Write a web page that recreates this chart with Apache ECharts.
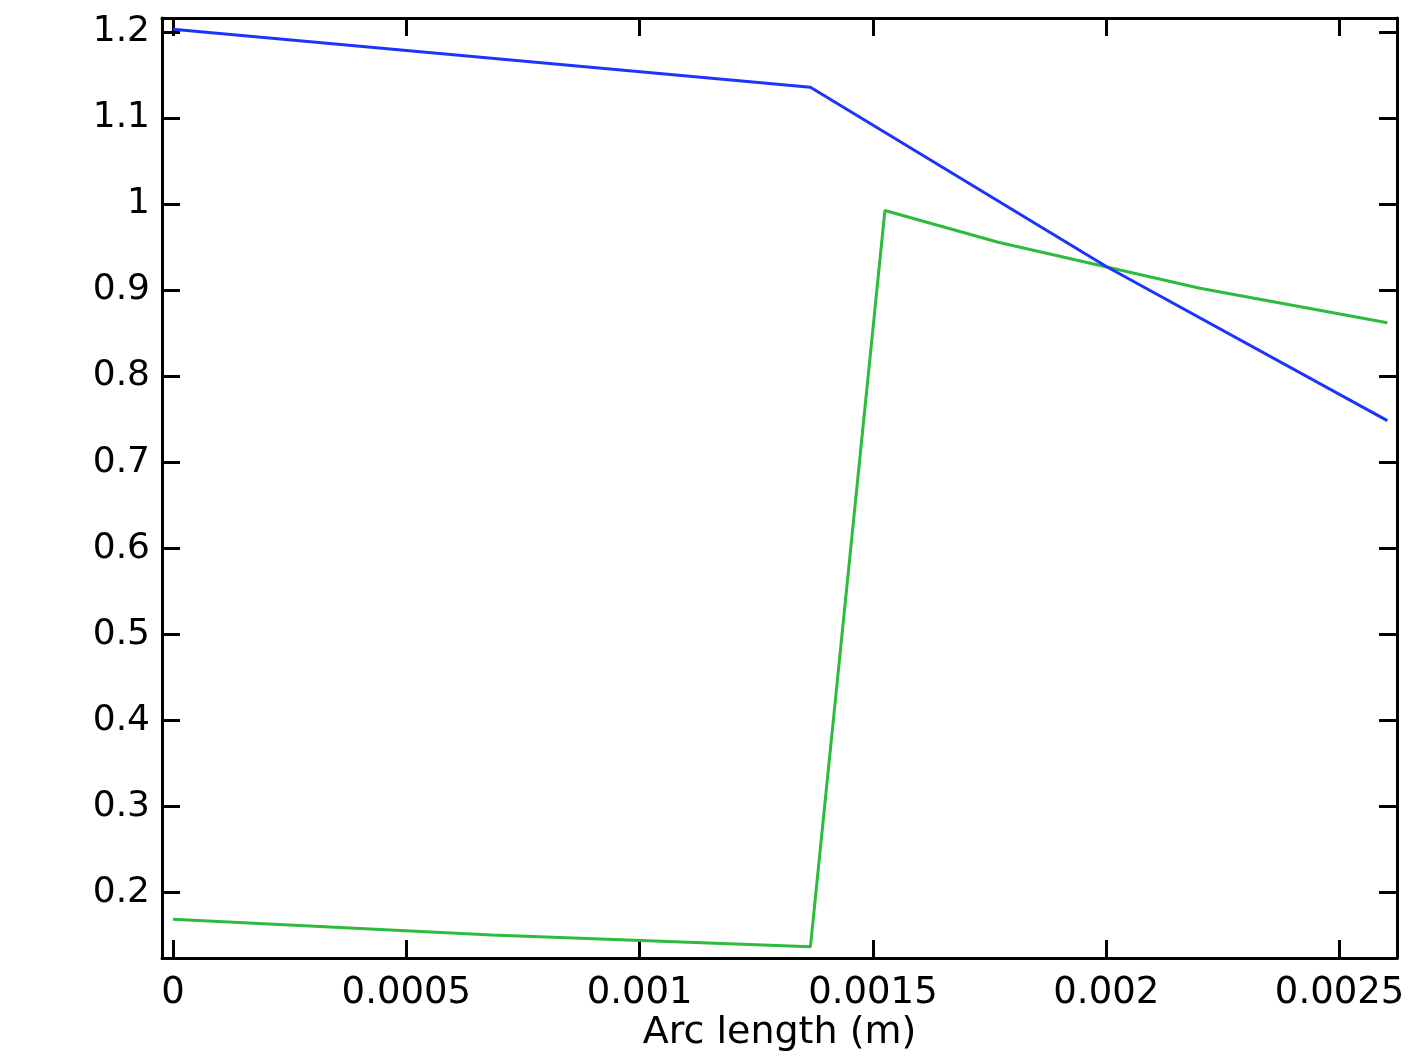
<!DOCTYPE html>
<html>
<head>
<meta charset="utf-8">
<script src="https://cdn.jsdelivr.net/npm/echarts@6/dist/echarts.min.js"></script>
<style>html,body{margin:0;padding:0;background:#fff;}#c{width:1417px;height:1063px;}</style>
</head>
<body>
<div id="c"></div>
<script>
// Data
const blueX = [0, 0.001366, 0.002, 0.0026023];
const blueY = [1.2031, 1.1357, 0.9274, 0.7482];
const greenX = [0, 0.000683, 0.001366, 0.0015256, 0.0017684, 0.0022008, 0.0026023];
const greenY = [0.1686, 0.1504, 0.1368, 0.9925, 0.9557, 0.9021, 0.8621];
const xTicks = [0, 0.0005, 0.001, 0.0015, 0.002, 0.0025];
const xTickLabels = ['0', '0.0005', '0.001', '0.0015', '0.002', '0.0025'];
const yTicks = [0.2, 0.3, 0.4, 0.5, 0.6, 0.7, 0.8, 0.9, 1, 1.1, 1.2];
const yTickLabels = ['0.2', '0.3', '0.4', '0.5', '0.6', '0.7', '0.8', '0.9', '1', '1.1', '1.2'];
const xName = 'Arc length (m)';

const xMin = -0.0000236, xMax = 0.002623;
const yMin = 0.1236, yMax = 1.2163;
const font = 'DejaVu Sans';

function pairs(xs, ys) { return xs.map((x, i) => [x, ys[i]]); }
function xLabelFmt(v) { const i = xTicks.findIndex(t => Math.abs(t - v) < 1e-9); return i >= 0 ? xTickLabels[i] : ''; }
function yLabelFmt(v) { const i = yTicks.findIndex(t => Math.abs(t - v) < 1e-9); return i >= 0 ? yTickLabels[i] : ''; }

const axisLine = { show: true, onZero: false, lineStyle: { color: '#000', width: 3 } };
const tick = (vals) => ({ show: true, inside: true, length: 18, lineStyle: { color: '#000', width: 3 }, customValues: vals });

const chart = echarts.init(document.getElementById('c'), null, { renderer: 'canvas' });
chart.setOption({
  animation: false,
  backgroundColor: '#fff',
  grid: { left: 162, right: 20, top: 18, bottom: 105, outerBoundsMode: 'none', containLabel: false },
  xAxis: [
    {
      type: 'value', position: 'bottom', min: xMin, max: xMax,
      axisLine: axisLine, axisTick: tick(xTicks), splitLine: { show: false },
      axisLabel: { show: true, customValues: xTicks, formatter: xLabelFmt, fontFamily: font, fontSize: 37, color: '#000', margin: 17 },
      name: xName, nameLocation: 'middle', nameGap: 56, nameMoveOverlap: false,
      nameTextStyle: { fontFamily: font, fontSize: 38, color: '#000' }
    },
    {
      type: 'value', position: 'top', min: xMin, max: xMax,
      axisLine: axisLine, axisTick: tick(xTicks), splitLine: { show: false },
      axisLabel: { show: false }
    }
  ],
  yAxis: [
    {
      type: 'value', position: 'left', min: yMin, max: yMax,
      axisLine: axisLine, axisTick: tick(yTicks), splitLine: { show: false },
      axisLabel: { show: true, customValues: yTicks, formatter: yLabelFmt, fontFamily: font, fontSize: 36, color: '#000', margin: 12 }
    },
    {
      type: 'value', position: 'right', min: yMin, max: yMax,
      axisLine: axisLine, axisTick: tick(yTicks), splitLine: { show: false },
      axisLabel: { show: false }
    }
  ],
  series: [
    {
      type: 'line', xAxisIndex: 0, yAxisIndex: 0, symbol: 'none',
      data: pairs(blueX, blueY),
      lineStyle: { color: '#1b35ff', width: 3 }, z: 3
    },
    {
      type: 'line', xAxisIndex: 0, yAxisIndex: 0, symbol: 'none',
      data: pairs(greenX, greenY),
      lineStyle: { color: '#2cbb3c', width: 3 }, z: 2
    }
  ]
});
</script>
</body>
</html>
